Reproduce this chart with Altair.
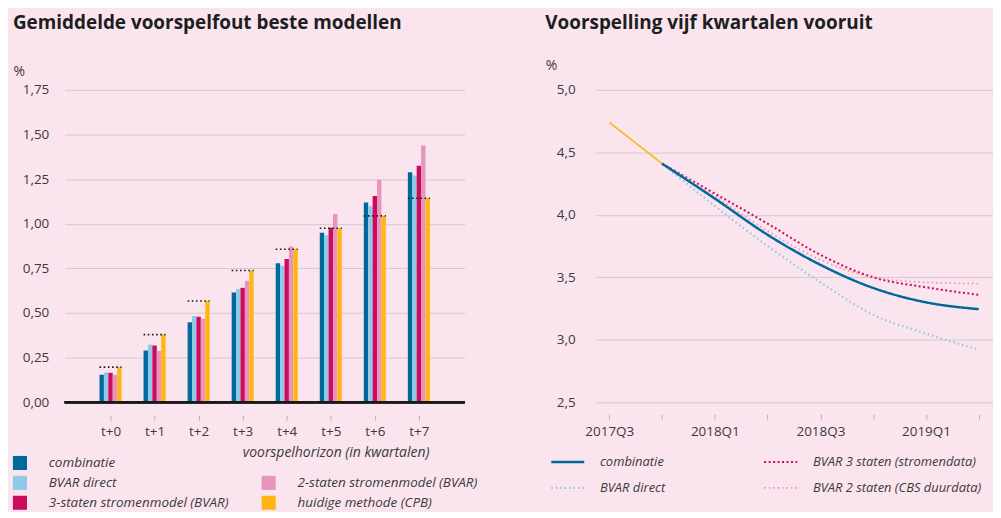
import altair as alt
import pandas as pd

# ---------------- data: left panel ----------------
horizons = ["t+0", "t+1", "t+2", "t+3", "t+4", "t+5", "t+6", "t+7"]
models = ["combinatie", "BVAR direct", "3-staten stromenmodel (BVAR)",
          "2-staten stromenmodel (BVAR)", "huidige methode (CPB)"]
combinatie = [0.154, 0.290, 0.448, 0.615, 0.779, 0.949, 1.119, 1.288]
bvar_direct = [0.167, 0.323, 0.483, 0.634, 0.765, 0.935, 1.098, 1.271]
staten3 = [0.165, 0.318, 0.479, 0.641, 0.803, 0.977, 1.156, 1.325]
staten2 = [0.154, 0.288, 0.468, 0.680, 0.873, 1.054, 1.247, 1.438]
huidige = [0.197, 0.379, 0.567, 0.738, 0.857, 0.975, 1.044, 1.143]
bar_colors = ["#00699c", "#8ecae6", "#cc0a5e", "#e895bd", "#ffb612"]
y_ticks_left = [0, 0.25, 0.5, 0.75, 1.0, 1.25, 1.5, 1.75]

legend_left_col = [0, 0, 0, 1, 1]
legend_left_row = [1, 2, 3, 2, 3]

# ---------------- data: right panel ----------------
quarters = ["2017Q3", "2017Q4", "2018Q1", "2018Q2", "2018Q3", "2018Q4", "2019Q1", "2019Q2"]
quarter_labels = ["2017Q3", "2018Q1", "2018Q3", "2019Q1"]
line_names = ["combinatie ", "BVAR direct ", "BVAR 3 staten (stromendata)",
              "BVAR 2 staten (CBS duurdata)", "realisatie"]
l_combinatie = [None, 4.41, 4.13, 3.84, 3.60, 3.415, 3.30, 3.245]
l_direct = [None, 4.41, 4.07, 3.75, 3.46, 3.20, 3.05, 2.92]
l_staten3 = [None, 4.41, 4.17, 3.93, 3.68, 3.50, 3.42, 3.36]
l_staten2 = [None, 4.41, 4.15, 3.87, 3.64, 3.50, 3.46, 3.45]
l_realisatie = [4.74, 4.41, None, None, None, None, None, None]
line_colors = ["#00699c", "#8ecae6", "#cc0a5e", "#e895bd", "#ffb612"]
line_dashes = [[1, 0], [1.5, 3], [2, 2.5], [1.5, 3], [1, 0]]
line_widths = [2.5, 1.6, 2.0, 1.4, 2.2]
y_ticks_right = [2.5, 3.0, 3.5, 4.0, 4.5, 5.0]

legend_right_names = line_names[:4]
legend_right_col = [0, 0, 1, 1]
legend_right_row = [1, 2, 1, 2]

FONT = "Open Sans"
BG = "#fae5ee"
GRID = "#d5c8ce"
TXT = "#3a3a3a"
LBL = 13.5

# ---------------- build left panel ----------------
series_vals = [combinatie, bvar_direct, staten3, staten2, huidige]
rows = []
for j, (m, vals) in enumerate(zip(models, series_vals)):
    for i, h in enumerate(horizons):
        rows.append({"horizon": h, "i": i, "model": m, "j": j, "value": vals[i]})
bars_df = pd.DataFrame(rows)
ref_df = pd.DataFrame({"horizon": horizons, "i": list(range(8)), "ref": huidige})

W_L, H = 402, 314
xs_left = alt.Scale(domain=[-1.04, 8.04], nice=False, zero=False)
ys_left = alt.Scale(domain=[0, 1.75], nice=False)
col_scale = alt.Scale(domain=models, range=bar_colors)

bars = alt.Chart(bars_df).transform_calculate(
    x0="datum.i - 0.25 + datum.j * 0.1",
    x1="datum.i - 0.25 + datum.j * 0.1 + 0.1",
).mark_bar(strokeWidth=0).encode(
    x=alt.X("x0:Q", scale=xs_left, axis=alt.Axis(
        values=list(range(8)), labelExpr="'t+' + datum.value", grid=False, domain=False,
        offset=13, tickSize=5, tickColor="#b9adb3", labelPadding=4, labelFontSize=LBL,
        labelColor=TXT, labelFont=FONT, title="voorspelhorizon (in kwartalen)",
        titleFont=FONT, titleFontStyle="italic", titleFontWeight="normal", titleFontSize=14,
        titleColor=TXT, titleX=366, titleY=37, titleAlign="right", titleBaseline="middle")),
    x2="x1:Q",
    y=alt.Y("value:Q", scale=ys_left, axis=alt.Axis(
        values=y_ticks_left, labelExpr="replace(format(datum.value, '.2f'), '.', ',')",
        domain=False, ticks=False, labelPadding=16, grid=True, gridColor=GRID,
        labelFontSize=LBL, labelColor=TXT, labelFont=FONT, title="%", titleAngle=0,
        titleAlign="left", titleBaseline="middle", titleX=-52, titleY=-18,
        titleFont=FONT, titleFontWeight="normal", titleFontSize=14, titleColor=TXT)),
    y2=alt.datum(0),
    color=alt.Color("model:N", scale=col_scale, legend=None),
)

baseline = alt.Chart(ref_df).mark_rule(color="#1a1a1a", strokeWidth=2).encode(
    y=alt.datum(0, scale=ys_left)
)

refs = alt.Chart(ref_df).transform_calculate(
    a="datum.i - 0.25", b="datum.i + 0.25"
).mark_rule(color="#1a1a1a", strokeWidth=1.6, strokeDash=[1.6, 2.6]).encode(
    x=alt.X("a:Q", scale=xs_left), x2="b:Q", y=alt.Y("ref:Q", scale=ys_left)
)

main_left = alt.layer(bars, baseline, refs)

leg_l_df = pd.DataFrame({"model": models, "col": legend_left_col, "row": legend_left_row})
lx = alt.Scale(domain=[0, 1], range=[-45, 205])
ly = alt.Scale(domain=[1, 3], range=[375, 415])
leg_sq = alt.Chart(leg_l_df).mark_square(size=200, opacity=1).encode(
    x=alt.X("col:Q", scale=lx, axis=None),
    y=alt.Y("row:Q", scale=ly, axis=None),
    color=alt.Color("model:N", scale=col_scale, legend=None),
)
leg_tx = alt.Chart(leg_l_df).mark_text(
    align="left", baseline="middle", dx=29, fontStyle="italic", fontSize=13.5,
    font=FONT, color=TXT
).encode(
    x=alt.X("col:Q", scale=lx, axis=None),
    y=alt.Y("row:Q", scale=ly, axis=None),
    text="model:N",
)
legend_left = alt.layer(leg_sq, leg_tx)

left = alt.layer(main_left, legend_left).resolve_scale(
    x="independent", y="independent"
).properties(
    width=W_L, height=H,
    title=alt.TitleParams("Gemiddelde voorspelfout beste modellen", anchor="start",
                          fontSize=19, fontWeight="bold", font=FONT, color="#1e1e1e",
                          offset=32, frame="bounds"),
)

# ---------------- build right panel ----------------
line_series = [l_combinatie, l_direct, l_staten3, l_staten2, l_realisatie]
lrows = []
for name, vals in zip(line_names, line_series):
    for q, v in zip(quarters, vals):
        if v is not None:
            lrows.append({"quarter": q, "series": name, "value": v})
lines_df = pd.DataFrame(lrows)

W_R = 400
xs_right = alt.Scale(domain=quarters, padding=0.27)
ys_right = alt.Scale(domain=[2.5, 5.0], nice=False, zero=False)
lc = alt.Scale(domain=line_names, range=line_colors)
ld = alt.Scale(domain=line_names, range=line_dashes)
lw = alt.Scale(domain=line_names, range=line_widths)

label_list = "[" + ",".join("'" + q + "'" for q in quarter_labels) + "]"

def line_layer(names):
    return alt.Chart(lines_df).transform_filter(
        alt.FieldOneOfPredicate(field="series", oneOf=names)
    ).mark_line(interpolate="monotone").encode(
        x=alt.X("quarter:O", scale=xs_right, sort=quarters, axis=alt.Axis(
            labelExpr="indexof(" + label_list + ", datum.value) >= 0 ? datum.value : ''",
            labelAngle=0, grid=False, domain=False, offset=12, tickSize=5,
            tickColor="#b9adb3", labelPadding=5, labelFontSize=LBL, labelColor=TXT,
            labelFont=FONT, title=None)),
        y=alt.Y("value:Q", scale=ys_right, axis=alt.Axis(
            values=y_ticks_right, labelExpr="replace(format(datum.value, '.1f'), '.', ',')",
            domain=False, ticks=False, labelPadding=20, grid=True, gridColor=GRID,
            labelFontSize=LBL, labelColor=TXT, labelFont=FONT, title="%", titleAngle=0,
            titleAlign="left", titleBaseline="middle", titleX=-50, titleY=-24,
            titleFont=FONT, titleFontWeight="normal", titleFontSize=14, titleColor=TXT)),
        color=alt.Color("series:N", scale=lc, legend=None),
        strokeDash=alt.StrokeDash("series:N", scale=ld, legend=None),
        strokeWidth=alt.StrokeWidth("series:N", scale=lw, legend=None),
    )

dotted = line_layer(line_names[1:4])
solid = line_layer([line_names[0], line_names[4]])
main_right = alt.layer(dotted, solid)

leg_r_df = pd.DataFrame({"series": legend_right_names, "col": legend_right_col,
                         "row": legend_right_row})
rx = alt.Scale(domain=[0, 1], range=[-44, 170])
ry = alt.Scale(domain=[1, 2], range=[374, 400])
leg_lines = alt.Chart(leg_r_df).transform_calculate(
    c2="datum.col + 0.155"
).mark_rule().encode(
    x=alt.X("col:Q", scale=rx, axis=None),
    x2="c2:Q",
    y=alt.Y("row:Q", scale=ry, axis=None),
    color=alt.Color("series:N", scale=lc, legend=None),
    strokeDash=alt.StrokeDash("series:N", scale=ld, legend=None),
    strokeWidth=alt.StrokeWidth("series:N", scale=lw, legend=None),
)
leg_rtx = alt.Chart(leg_r_df).mark_text(
    align="left", baseline="middle", dx=49, fontStyle="italic", fontSize=13,
    font=FONT, color=TXT
).encode(
    x=alt.X("col:Q", scale=rx, axis=None),
    y=alt.Y("row:Q", scale=ry, axis=None),
    text="series:N",
)
legend_right = alt.layer(leg_lines, leg_rtx)

right = alt.layer(main_right, legend_right).resolve_scale(
    x="independent", y="independent"
).properties(
    width=W_R, height=H,
    title=alt.TitleParams("Voorspelling vijf kwartalen vooruit", anchor="start",
                          fontSize=19, fontWeight="bold", font=FONT, color="#1e1e1e",
                          offset=26, frame="bounds"),
)

chart = alt.hconcat(left, right, spacing=68).resolve_scale(
    color="independent", strokeDash="independent", strokeWidth="independent"
).properties(
    background=BG,
    padding={"left": 4, "top": 5, "right": 0, "bottom": 0},
).configure_view(stroke=None)

chart.save("out.html", embed_options={"renderer": "svg", "actions": False})
